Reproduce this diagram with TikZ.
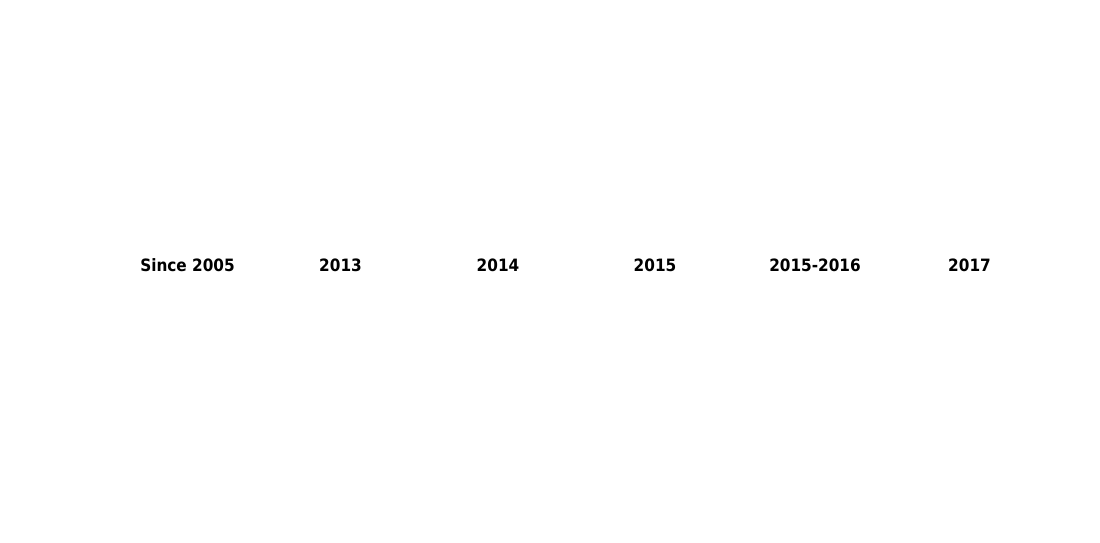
\documentclass[tikz,border=0pt]{standalone}
\usepackage{fontspec}
\setmainfont{DejaVu Sans Condensed}
\begin{document}
\begin{tikzpicture}[x=1pt,y=1pt,
  yearlabel/.style={inner sep=0pt,anchor=base,font=\fontsize{17}{19}\selectfont\bfseries}]
\useasboundingbox[fill=white] (0,0) rectangle (1100,543);
\node[yearlabel] (y2005) at (187.5,271.5) {Since 2005};
\node[yearlabel] (y2013) at (340.5,271.5) {2013};
\node[yearlabel] (y2014) at (498,271.5) {2014};
\node[yearlabel] (y2015) at (655,271.5) {2015};
\node[yearlabel] (y2016) at (815,271.5) {2015-2016};
\node[yearlabel] (y2017) at (969.5,271.5) {2017};
\end{tikzpicture}
\end{document}
